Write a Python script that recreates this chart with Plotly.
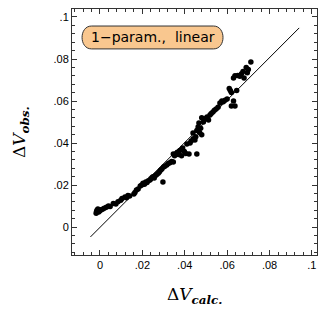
import plotly.graph_objects as go

# ---- data ----
dv_calc = [-0.0018, -0.0016, -0.0014, -0.0010, -0.0006, 0.0000, 0.0005, 0.0012, 0.0020, 0.0030,
           0.0040, 0.0048, 0.0063, 0.0075, 0.0085, 0.0098, 0.0104, 0.0118, 0.0125, 0.0132,
           0.0140, 0.0160, 0.0165, 0.0172, 0.0180, 0.0190, 0.0197, 0.0203, 0.0210, 0.0216,
           0.0222, 0.0228, 0.0236, 0.0240, 0.0246, 0.0250, 0.0256, 0.0262, 0.0268, 0.0275,
           0.0280, 0.0286, 0.0292, 0.0297, 0.0300, 0.0306, 0.0315, 0.0322, 0.0330, 0.0338,
           0.0346, 0.0346, 0.0352, 0.0360, 0.0365, 0.0370, 0.0377, 0.0385, 0.0390, 0.0398,
           0.0405, 0.0410, 0.0420, 0.0425, 0.0430, 0.0439, 0.0440, 0.0448, 0.0452, 0.0457,
           0.0457, 0.0463, 0.0467, 0.0470, 0.0475, 0.0480, 0.0480, 0.0488, 0.0495, 0.0505,
           0.0512, 0.0519, 0.0525, 0.0533, 0.0540, 0.0548, 0.0557, 0.0566, 0.0575, 0.0582,
           0.0590, 0.0600, 0.0610, 0.0615, 0.0620, 0.0620, 0.0630, 0.0630, 0.0637, 0.0637,
           0.0645, 0.0650, 0.0660, 0.0668, 0.0675, 0.0680, 0.0690, 0.0695, 0.0700, 0.0712]
dv_obs = [0.0066, 0.0074, 0.0080, 0.0086, 0.0072, 0.0078, 0.0082, 0.0085, 0.0089, 0.0094,
          0.0100, 0.0098, 0.0112, 0.0110, 0.0120, 0.0128, 0.0136, 0.0143, 0.0140, 0.0150,
          0.0148, 0.0157, 0.0165, 0.0177, 0.0181, 0.0195, 0.0200, 0.0208, 0.0204, 0.0214,
          0.0212, 0.0220, 0.0224, 0.0230, 0.0236, 0.0240, 0.0234, 0.0246, 0.0250, 0.0256,
          0.0262, 0.0270, 0.0276, 0.0214, 0.0286, 0.0290, 0.0296, 0.0302, 0.0306, 0.0312,
          0.0310, 0.0348, 0.0340, 0.0350, 0.0356, 0.0345, 0.0365, 0.0340, 0.0376, 0.0360,
          0.0350, 0.0395, 0.0348, 0.0400, 0.0410, 0.0448, 0.0420, 0.0414, 0.0430, 0.0348,
          0.0460, 0.0476, 0.0495, 0.0450, 0.0470, 0.0520, 0.0440, 0.0500, 0.0515, 0.0524,
          0.0510, 0.0533, 0.0540, 0.0548, 0.0556, 0.0562, 0.0570, 0.0590, 0.0600, 0.0596,
          0.0604, 0.0610, 0.0660, 0.0650, 0.0576, 0.0640, 0.0600, 0.0710, 0.0576, 0.0720,
          0.0650, 0.0722, 0.0718, 0.0730, 0.0740, 0.0710, 0.0760, 0.0735, 0.0750, 0.0786]

fit_x = [-0.0045, 0.094]
fit_y = [-0.0047, 0.0948]

x_tickvals = [0, 0.02, 0.04, 0.06, 0.08, 0.1]
x_ticktext = ["0", ".02", ".04", ".06", ".08", ".1"]
y_tickvals = [0, 0.02, 0.04, 0.06, 0.08, 0.1]
y_ticktext = ["0", ".02", ".04", ".06", ".08", ".1"]

label_text = "1\u2212param.,  linear"

fig = go.Figure()
fig.add_trace(go.Scatter(x=fit_x, y=fit_y, mode="lines",
                         line=dict(color="black", width=1), showlegend=False))
fig.add_trace(go.Scatter(x=dv_calc, y=dv_obs, mode="markers",
                         marker=dict(color="black", size=5.5, line=dict(width=0)),
                         showlegend=False))

axis_common = dict(
    showline=True, linecolor="#333333", linewidth=1, mirror="ticks",
    ticks="inside", ticklen=5, tickwidth=1, tickcolor="#333333",
    showgrid=False, zeroline=False,
    tickfont=dict(family="Liberation Sans, Arial, sans-serif", size=11, color="black"),
    minor=dict(ticks="inside", ticklen=3, tickwidth=1, tickcolor="#333333", dtick=0.004,
               tick0=0, showgrid=False),
)

fig.update_xaxes(range=[-0.0132, 0.1024], tickvals=x_tickvals, ticktext=x_ticktext,
                 **axis_common)
fig.update_yaxes(range=[-0.0133, 0.1038], tickvals=y_tickvals, ticktext=y_ticktext,
                 **axis_common)

# rounded label box (pill shape) in data coordinates
x0, x1 = -0.0094, 0.0590
y0, y1 = 0.0848, 0.0957
rx = 0.0054
path = (f"M {x0+rx},{y0} L {x1-rx},{y0} "
        f"C {x1+rx*0.1},{y0} {x1+rx*0.1},{y1} {x1-rx},{y1} "
        f"L {x0+rx},{y1} "
        f"C {x0-rx*0.1},{y1} {x0-rx*0.1},{y0} {x0+rx},{y0} Z")
fig.add_shape(type="path", path=path, xref="x", yref="y",
              fillcolor="#f9c78f", line=dict(color="#333333", width=1))
fig.add_annotation(x=(x0 + x1) / 2, y=(y0 + y1) / 2, xref="x", yref="y",
                   text=label_text, showarrow=False,
                   font=dict(family="DejaVu Sans, sans-serif", size=14, color="black"))

title_font = dict(family="DejaVu Serif, Liberation Serif, serif", size=17, color="black")
fig.add_annotation(x=0.5, y=-0.165, xref="paper", yref="paper",
                   text="\u0394<i>V</i><sub><b><i>calc.</i></b></sub>",
                   showarrow=False, font=title_font, xanchor="center", yanchor="middle")
fig.add_annotation(x=-0.212, y=0.5, xref="paper", yref="paper",
                   text="\u0394<i>V</i><sub><b><i>obs.</i></b></sub>", textangle=-90,
                   showarrow=False, font=title_font, xanchor="center", yanchor="middle")

fig.update_layout(width=327, height=309,
                  margin=dict(l=72, r=10, t=9, b=54),
                  plot_bgcolor="white", paper_bgcolor="white")

fig.write_html("out.html", config={"displayModeBar": False},
               post_script="document.body.style.margin='0px';document.body.style.padding='0px';")
